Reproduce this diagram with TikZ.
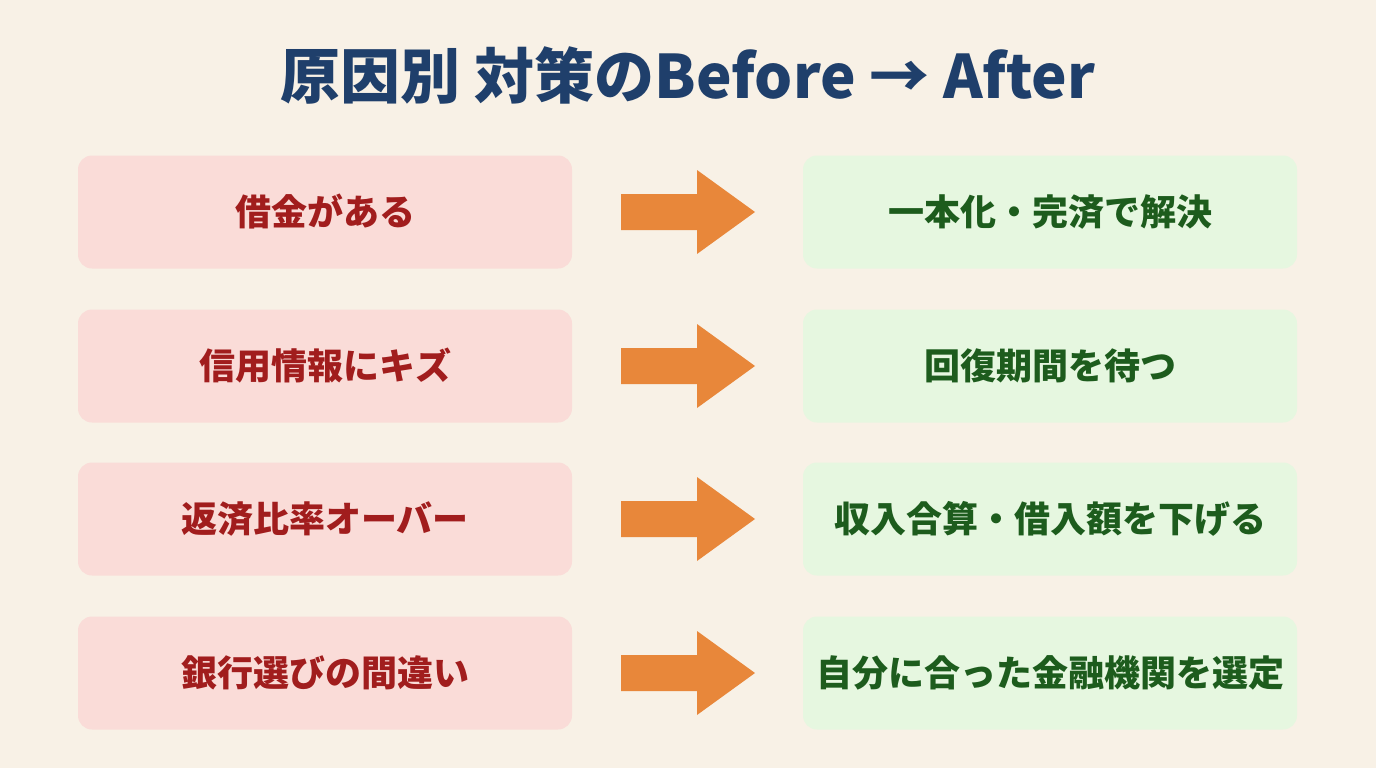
\documentclass[tikz,border=0pt]{standalone}
\usepackage{fontspec}
\setmainfont{Noto Sans CJK JP}
\definecolor{bg}{HTML}{F8F1E6}
\definecolor{ttl}{HTML}{1F3F6B}
\definecolor{lf}{HTML}{FADCD8}
\definecolor{lt}{HTML}{A11D1D}
\definecolor{rf}{HTML}{E6F7E0}
\definecolor{rt}{HTML}{1D5C1D}
\definecolor{ar}{HTML}{E8873A}
\begin{document}
\begin{tikzpicture}[x=1pt,y=-1pt,
  lbox/.style={fill=lf,rounded corners=14pt,minimum width=494pt,minimum height=113pt,text=lt,font=\fontsize{36}{40}\selectfont\bfseries},
  rbox/.style={fill=rf,rounded corners=14pt,minimum width=494pt,minimum height=113pt,text=rt,font=\fontsize{36}{40}\selectfont\bfseries}]
\fill[bg] (0,0) rectangle (1376,768);
\useasboundingbox (0,0) rectangle (1376,768);
\node[text=ttl,font=\fontsize{60}{66}\selectfont\bfseries] (title) at (688,75) {原因別 対策のBefore → After};
\foreach \y/\a/\b [count=\i] in {212/借金がある/一本化・完済で解決, 366/信用情報にキズ/回復期間を待つ, 519/返済比率オーバー/収入合算・借入額を下げる, 673/銀行選びの間違い/自分に合った金融機関を選定}{
  \node[lbox] (l\i) at (325,\y) {\a};
  \node[rbox] (r\i) at (1050,\y) {\b};
  \fill[ar] (621,\y-18) -- (697,\y-18) -- (697,\y-42) -- (755,\y) -- (697,\y+42) -- (697,\y+18) -- (621,\y+18) -- cycle;
}
\end{tikzpicture}
\end{document}
